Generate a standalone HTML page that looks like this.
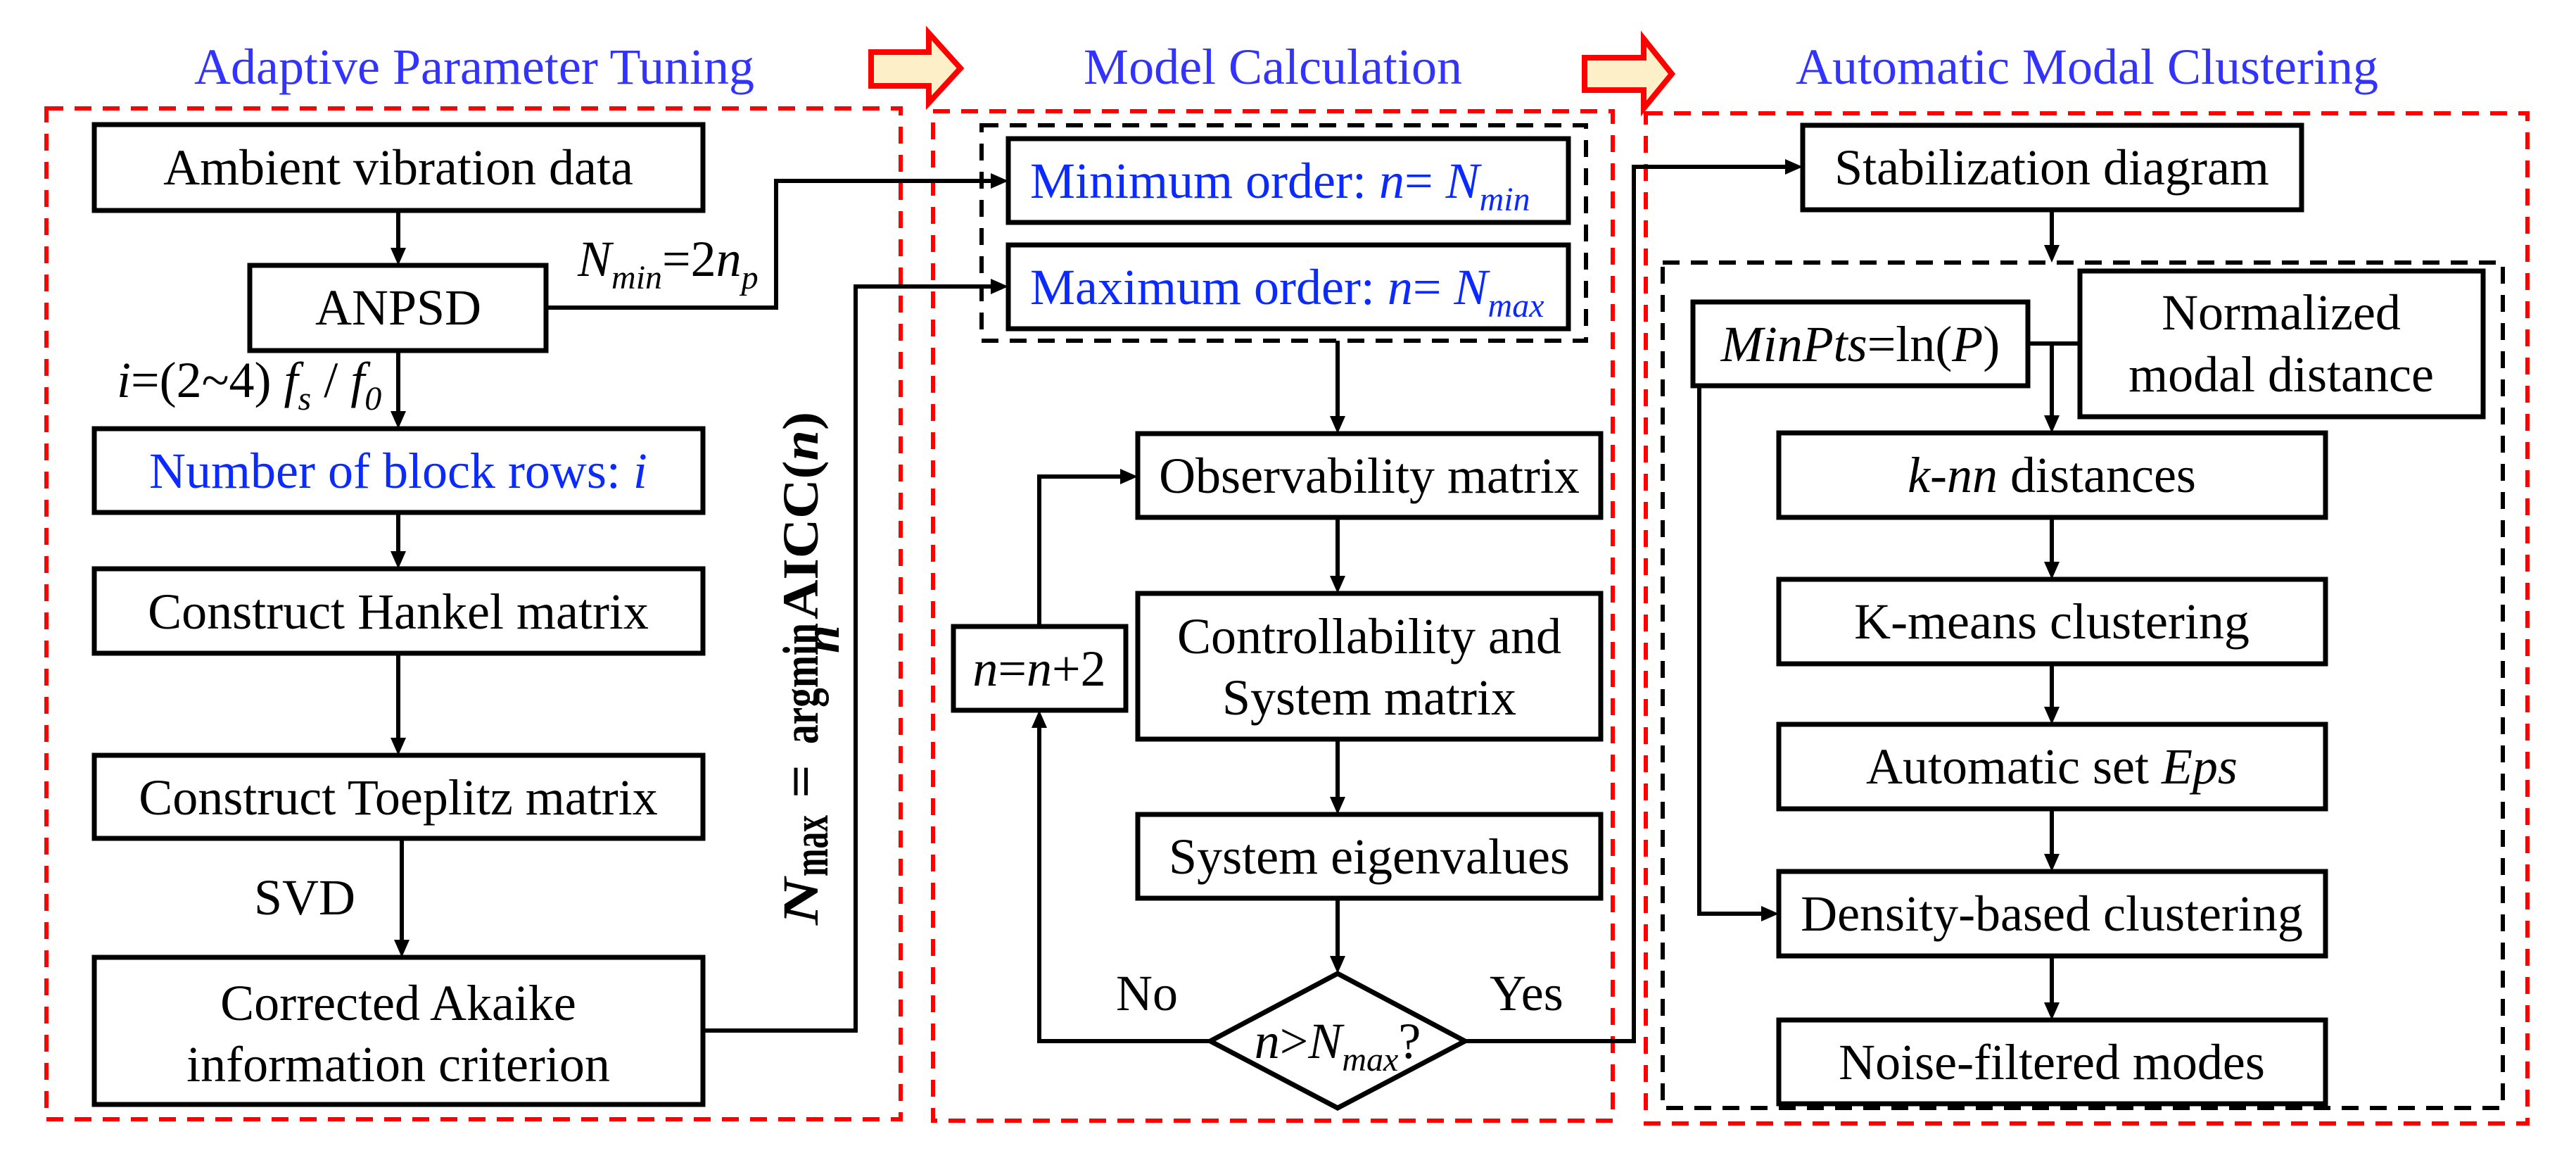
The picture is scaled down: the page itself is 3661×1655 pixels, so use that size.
<!DOCTYPE html>
<html><head><meta charset="utf-8"><style>
html,body{margin:0;padding:0;background:#fff;}
svg{display:block;}
text{font-family:"Liberation Serif","Times New Roman","DejaVu Serif",serif;font-size:72px;fill:#000;}
.t{fill:#3333ff;}
.b{fill:#0a2aff;}
.bx{fill:#fff;stroke:#000;stroke-width:7;}
.ln{fill:none;stroke:#000;stroke-width:6;}
.rd{fill:none;stroke:#ff0000;stroke-width:6;stroke-dasharray:24 16;}
.kd{fill:none;stroke:#000;stroke-width:6;stroke-dasharray:24 16;}
.i{font-style:italic;}
</style></head><body>
<svg width="3661" height="1655" viewBox="0 0 3661 1655" xmlns="http://www.w3.org/2000/svg" font-family="Liberation Serif, Times New Roman, serif">
<!-- titles -->
<text class="t" x="674" y="119" text-anchor="middle">Adaptive Parameter Tuning</text>
<text class="t" x="1809" y="119" text-anchor="middle">Model Calculation</text>
<text class="t" x="2966" y="119" text-anchor="middle">Automatic Modal Clustering</text>
<!-- block arrows -->
<polygon points="1238,74 1320,74 1320,47 1365,97 1320,146 1320,122 1238,122" fill="#fdf0c8" stroke="#ff0000" stroke-width="8"/>
<polygon points="2252,82 2336,82 2336,55 2376,105 2336,154 2336,128 2252,128" fill="#fdf0c8" stroke="#ff0000" stroke-width="8"/>
<!-- red dashed panels -->
<rect class="rd" x="66" y="154" width="1214" height="1436"/>
<rect class="rd" x="1326" y="158" width="966" height="1434"/>
<rect class="rd" x="2339" y="161" width="1253" height="1435"/>
<!-- black dashed -->
<rect class="kd" x="1395" y="178" width="859" height="306"/>
<rect class="kd" x="2363" y="373" width="1194" height="1201"/>

<!-- connectors -->
<g class="ln">
<polyline points="776,437 1103,437 1103,257 1415,257"/>
<polyline points="999,1464 1216,1464 1216,407 1415,407"/>
<line x1="566" y1="299" x2="566" y2="358"/>
<line x1="566" y1="498" x2="566" y2="590"/>
<line x1="566" y1="728" x2="566" y2="789"/>
<line x1="566" y1="928" x2="566" y2="1054"/>
<line x1="571" y1="1191" x2="571" y2="1341"/>
<line x1="1901" y1="484" x2="1901" y2="597"/>
<line x1="1901" y1="735" x2="1901" y2="824"/>
<line x1="1901" y1="1050" x2="1901" y2="1138"/>
<line x1="1901" y1="1276" x2="1901" y2="1364"/>
<polyline points="1720,1479 1477,1479 1477,1028"/>
<polyline points="1477,890 1477,677 1598,677"/>
<polyline points="2082,1479 2322,1479 2322,237 2543,237"/>
<line x1="2916" y1="298" x2="2916" y2="354"/>
<polyline points="2882,488 2956,488"/>
<line x1="2916" y1="488" x2="2916" y2="596"/>
<line x1="2916" y1="735" x2="2916" y2="804"/>
<line x1="2916" y1="943" x2="2916" y2="1010"/>
<line x1="2916" y1="1149" x2="2916" y2="1219"/>
<line x1="2916" y1="1358" x2="2916" y2="1430"/>
<polyline points="2415,548 2415,1298 2509,1298"/>
</g>
<!-- arrowheads -->
<g fill="#000">
<polygon points="555,352 577,352 566,377"/>
<polygon points="555,584 577,584 566,609"/>
<polygon points="555,783 577,783 566,808"/>
<polygon points="555,1048 577,1048 566,1073"/>
<polygon points="560,1335 582,1335 571,1360"/>
<polygon points="1408,246 1408,268 1433,257"/>
<polygon points="1408,396 1408,418 1433,407"/>
<polygon points="1890,591 1912,591 1901,616"/>
<polygon points="1890,818 1912,818 1901,843"/>
<polygon points="1890,1132 1912,1132 1901,1157"/>
<polygon points="1890,1358 1912,1358 1901,1383"/>
<polygon points="1466,1034 1488,1034 1477,1009"/>
<polygon points="1592,666 1592,688 1617,677"/>
<polygon points="2537,226 2537,248 2562,237"/>
<polygon points="2905,348 2927,348 2916,373"/>
<polygon points="2905,590 2927,590 2916,615"/>
<polygon points="2905,798 2927,798 2916,823"/>
<polygon points="2905,1004 2927,1004 2916,1029"/>
<polygon points="2905,1213 2927,1213 2916,1238"/>
<polygon points="2905,1424 2927,1424 2916,1449"/>
<polygon points="2503,1287 2503,1309 2528,1298"/>
</g>

<!-- left boxes -->
<rect class="bx" x="134" y="177" width="865" height="122"/>
<text x="566" y="262" text-anchor="middle">Ambient vibration data</text>
<rect class="bx" x="355" y="377" width="421" height="121"/>
<text x="566" y="461" text-anchor="middle">ANPSD</text>
<rect class="bx" x="134" y="609" width="865" height="119"/>
<text class="b" x="566" y="693" text-anchor="middle">Number of block rows: <tspan class="i">i</tspan></text>
<rect class="bx" x="134" y="808" width="865" height="120"/>
<text x="566" y="893" text-anchor="middle">Construct Hankel matrix</text>
<rect class="bx" x="134" y="1073" width="865" height="118"/>
<text x="566" y="1157" text-anchor="middle">Construct Toeplitz matrix</text>
<rect class="bx" x="134" y="1360" width="865" height="209"/>
<text x="566" y="1449" text-anchor="middle">Corrected Akaike</text>
<text x="566" y="1536" text-anchor="middle">information criterion</text>

<text class="i" x="821" y="392">N<tspan font-size="48" dy="18">min</tspan><tspan font-style="normal" dy="-18">=2</tspan>n<tspan font-size="48" dy="18">p</tspan></text>
<text x="166" y="564"><tspan class="i">i</tspan>=(2~4) <tspan class="i">f</tspan><tspan class="i" font-size="48" dy="18">s</tspan><tspan dy="-18"> / </tspan><tspan class="i">f</tspan><tspan class="i" font-size="48" dy="18">0</tspan></text>
<text x="361" y="1299">SVD</text>
<g transform="translate(1162,1314) rotate(-90)" font-weight="bold">
<text x="0" y="0" class="i" textLength="67" lengthAdjust="spacingAndGlyphs">N</text>
<text x="69" y="14" font-size="52" textLength="87" lengthAdjust="spacingAndGlyphs">max</text>
<text x="180" y="0" textLength="48" lengthAdjust="spacingAndGlyphs">=</text>
<text x="257" y="0" textLength="172" lengthAdjust="spacingAndGlyphs">argmin</text>
<text x="386" y="30" font-size="50" class="i" textLength="40" lengthAdjust="spacingAndGlyphs">n</text>
<text x="434" y="0" textLength="295" lengthAdjust="spacingAndGlyphs">AICC(<tspan class="i">n</tspan>)</text>
</g>

<!-- middle -->
<rect class="bx" x="1433" y="197" width="796" height="119"/>
<text class="b" x="1464" y="281">Minimum order: <tspan class="i">n</tspan>= <tspan class="i">N<tspan font-size="48" dy="18">min</tspan></tspan></text>
<rect class="bx" x="1433" y="348" width="796" height="119"/>
<text class="b" x="1464" y="432">Maximum order: <tspan class="i">n</tspan>= <tspan class="i">N<tspan font-size="48" dy="18">max</tspan></tspan></text>
<rect class="bx" x="1617" y="616" width="658" height="119"/>
<text x="1946" y="700" text-anchor="middle">Observability matrix</text>
<rect class="bx" x="1617" y="843" width="658" height="207"/>
<text x="1946" y="928" text-anchor="middle">Controllability and</text>
<text x="1946" y="1015" text-anchor="middle">System matrix</text>
<rect class="bx" x="1617" y="1157" width="658" height="119"/>
<text x="1946" y="1241" text-anchor="middle">System eigenvalues</text>
<rect class="bx" x="1355" y="890" width="245" height="119"/>
<text x="1477" y="974" text-anchor="middle"><tspan class="i">n</tspan>=<tspan class="i">n</tspan>+2</text>
<polygon class="bx" points="1901,1383 2082,1479 1901,1574 1720,1479"/>
<text x="1901" y="1503" text-anchor="middle"><tspan class="i">n</tspan>&gt;<tspan class="i">N</tspan><tspan class="i" font-size="48" dy="18">max</tspan><tspan dy="-18">?</tspan></text>
<text x="1586" y="1435">No</text>
<text x="2117" y="1435">Yes</text>

<!-- right -->
<rect class="bx" x="2562" y="178" width="709" height="120"/>
<text x="2916" y="262" text-anchor="middle">Stabilization diagram</text>
<rect class="bx" x="2406" y="429" width="476" height="119"/>
<text x="2644" y="513" text-anchor="middle"><tspan class="i">MinPts</tspan>=ln(<tspan class="i">P</tspan>)</text>
<rect class="bx" x="2956" y="385" width="573" height="207"/>
<text x="3242" y="468" text-anchor="middle">Normalized</text>
<text x="3242" y="556" text-anchor="middle">modal distance</text>
<rect class="bx" x="2528" y="615" width="777" height="120"/>
<text x="2916" y="699" text-anchor="middle"><tspan class="i">k-nn</tspan> distances</text>
<rect class="bx" x="2528" y="823" width="777" height="120"/>
<text x="2916" y="907" text-anchor="middle">K-means clustering</text>
<rect class="bx" x="2528" y="1029" width="777" height="120"/>
<text x="2916" y="1113" text-anchor="middle">Automatic set <tspan class="i">Eps</tspan></text>
<rect class="bx" x="2528" y="1238" width="777" height="120"/>
<text x="2916" y="1322" text-anchor="middle">Density-based clustering</text>
<rect class="bx" x="2528" y="1449" width="777" height="119"/>
<text x="2916" y="1533" text-anchor="middle">Noise-filtered modes</text>
</svg>
</body></html>
